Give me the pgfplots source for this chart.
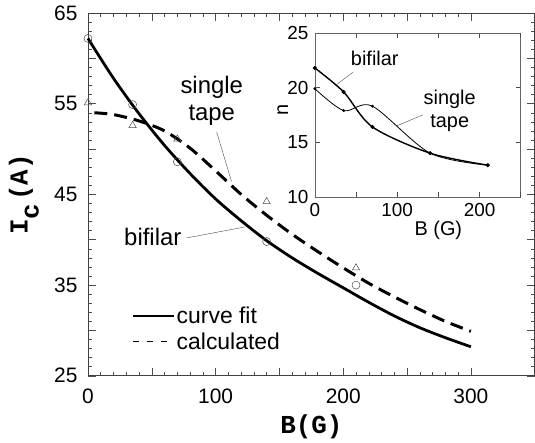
\documentclass[border=0pt]{standalone}
\usepackage{fontspec}
\setmainfont{Liberation Sans}
\newfontfamily\cour{Liberation Mono}
\usepackage{pgfplots}
\pgfplotsset{compat=1.18}

\pgfplotstableread{
B  I
0   62.2
35  54.9
70  48.6
140 39.8
210 35.0
}\bifilar
\pgfplotstableread{
B  I
0   55.1
35  52.6
70  51.1
140 44.2
210 36.9
}\single

\begin{document}
\begin{tikzpicture}
\begin{axis}[
    name=main, scale only axis,
    width=447bp, height=363bp,
    xmin=0, xmax=350, ymin=25, ymax=65,
    xtick={0,100,200,300}, ytick={25,35,45,55,65},
    minor x tick num=9, minor y tick num=9,
    extra x ticks={50,150,250}, extra x tick labels={},
    extra y ticks={30,40,50,60}, extra y tick labels={},
    tick align=inside, major tick length=8bp, minor tick length=4bp,
    every tick/.style={black!70, line width=0.5pt},
    axis line style={black!75, line width=0.6pt},
    ticklabel style={font=\fontsize{21}{21}\selectfont},
    xticklabel style={yshift=-10bp},
    yticklabel style={xshift=-7bp},
    /pgf/number format/assume math mode=true,
    xlabel={\cour\bfseries\fontsize{26}{26}\selectfont B(G)},
    ylabel={\cour\bfseries\fontsize{26}{26}\selectfont I\raisebox{-11bp}{c}\hspace{3bp}(A)},
    xlabel style={at={(axis description cs:0.5,0)}, anchor=center, yshift=-51bp},
    ylabel style={at={(axis description cs:0,0.5)}, anchor=center, yshift=64bp},
    legend style={draw=none, fill=none, at={(axis cs:32,27.3)}, anchor=south west,
        font=\fontsize{23}{23}\selectfont, row sep=4bp,
        legend cell align=left},
    legend image code/.code={\draw[#1] (0bp,0bp) -- (41bp,0bp);},
    clip=false,
]
\addlegendimage{black, line width=1.8pt}
\addlegendentry{curve fit}
\addlegendimage{black, line width=1.4pt, dash pattern=on 6bp off 8bp}
\addlegendentry{calculated}

% curve fit
\addplot[black, line width=2.8pt, smooth] coordinates {
(0,62.2) (20,57.8) (40,53.9) (60,50.4) (80,47.3) (100,44.5) (120,42.1)
(140,39.9) (160,38.0) (180,36.3) (200,34.7) (220,33.1) (240,31.6)
(260,30.3) (280,29.2) (300,28.2)
};
% calculated
\addplot[black, line width=3pt, smooth, dash pattern=on 13bp off 7bp] coordinates {
(5,54.0) (20,53.8) (40,53.1) (60,52.0) (80,50.1) (100,47.6) (120,45.0)
(140,42.7) (160,40.6) (180,38.7) (200,36.9) (220,35.2) (240,33.7)
(260,32.3) (280,31.0) (300,29.9)
};
\addplot[only marks, mark=o, mark size=4bp, mark options={draw=black!70, line width=0.5pt}] table[x=B,y=I] {\bifilar};
\addplot[only marks, mark=triangle, mark size=4.2bp, mark options={draw=black!70, line width=0.5pt}] table[x=B,y=I] {\single};

\node[font=\fontsize{24}{27}\selectfont, align=center] at (axis cs:97,55.3) {single\\tape};
\draw[black!70, line width=0.4pt] (axis cs:100.8,51.9) -- (axis cs:112.5,46.4);
\node[font=\fontsize{24}{24}\selectfont] at (axis cs:50.8,40.3) {bifilar};
\draw[black!70, line width=0.4pt] (axis cs:77.3,40.2) -- (axis cs:122.7,41.4);
\end{axis}

\begin{axis}[
    at={(227bp,179bp)}, anchor=south west, scale only axis,
    width=206bp, height=164bp,
    xmin=0, xmax=250, ymin=10, ymax=25,
    xtick={0,100,200}, extra x ticks={50,150,250}, extra x tick labels={},
    ytick={10,15,20,25},
    tick align=inside, major tick length=5bp,
    every tick/.style={black!70, line width=0.5pt},
    axis line style={black!60, line width=0.5pt},
    ticklabel style={font=\fontsize{19}{19}\selectfont},
    xticklabel style={yshift=-3bp},
    yticklabel style={xshift=-3bp},
    /pgf/number format/assume math mode=true,
    xlabel={B (G)}, ylabel={n},
    label style={font=\fontsize{20}{20}\selectfont},
    xlabel style={at={(axis description cs:0.6,0)}, anchor=center, yshift=-33bp},
    ylabel style={at={(axis description cs:0,0.53)}, anchor=center, yshift=32bp},
    clip=false,
]
\addplot[black, line width=1.4pt, smooth, mark=*, mark size=1.2bp] coordinates {
(0,21.8) (35,19.6) (70,16.4) (140,14.0) (210,12.9)
};
\addplot[black, line width=0.8pt, smooth, mark=*, mark size=1bp] coordinates {
(0,19.9) (35,17.9) (70,18.3) (140,14.0) (210,12.9)
};
\node[font=\fontsize{20}{20}\selectfont] at (axis cs:72.8,22.7) {bifilar};
\draw[black!70, line width=0.4pt] (axis cs:46.1,21.4) -- (axis cs:24.3,20.15);
\node[font=\fontsize{20}{23}\selectfont, align=center] at (axis cs:163.8,17.9) {single\\tape};
\draw[black!70, line width=0.4pt] (axis cs:131,17.5) -- (axis cs:99.5,16.5);
\end{axis}
\path (-88bp,-66bp) rectangle (447bp,376bp);
\end{tikzpicture}
\end{document}
